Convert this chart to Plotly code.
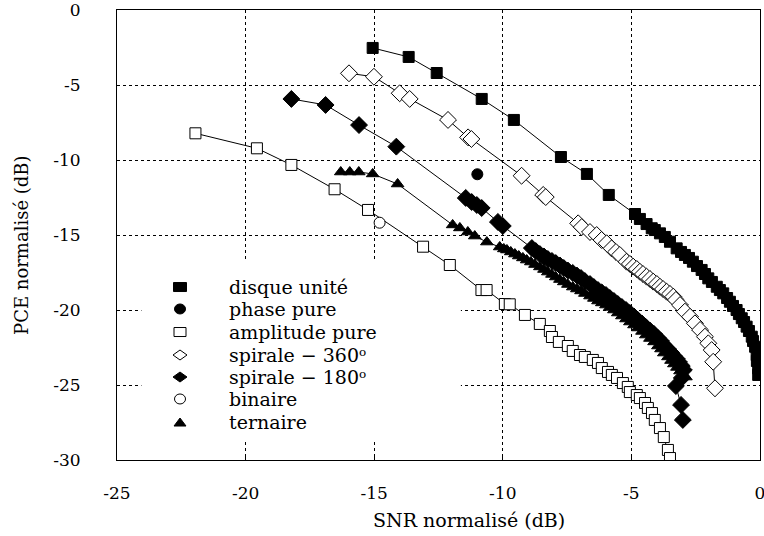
import plotly.graph_objects as go

# ---- data (SNR normalisé, PCE normalisé), dB ----
disque_x = [-15.06, -13.66, -12.57, -10.82, -9.57, -7.74, -6.73, -5.88, -4.86,
            -4.67, -4.41, -4.21, -4.09, -3.89, -3.70, -3.50, -3.24, -3.07, -2.92,
            -2.76, -2.61, -2.45, -2.27, -2.14, -2.01, -1.87, -1.68, -1.56, -1.43,
            -1.28, -1.17, -1.05, -0.91, -0.82, -0.71, -0.62, -0.52, -0.43, -0.32,
            -0.27, -0.19, -0.13, -0.12, -0.07, -0.07]
disque_y = [-2.53, -3.13, -4.20, -5.93, -7.33, -9.80, -10.93, -12.33, -13.60,
            -13.93, -14.27, -14.55, -14.67, -14.89, -15.13, -15.45, -15.89, -16.13, -16.33,
            -16.53, -16.78, -17.07, -17.33, -17.60, -17.89, -18.13, -18.45, -18.67, -18.89,
            -19.20, -19.45, -19.73, -20.00, -20.27, -20.55, -20.80, -21.11, -21.40, -21.78,
            -22.07, -22.45, -23.00, -23.40, -23.89, -24.33]

phase_x = [-10.99]
phase_y = [-10.95]

binaire_x = [-14.79]
binaire_y = [-14.18]

ampl_x = [-21.95, -19.56, -18.22, -16.54, -15.24, -13.10, -12.06, -10.83, -10.63,
          -9.92, -9.73, -9.14, -8.56, -8.17, -8.09, -7.82, -7.47, -7.28, -7.00,
          -6.81, -6.50, -6.30, -6.15, -5.91, -5.76, -5.56, -5.33, -5.14, -5.06,
          -4.79, -4.67, -4.47, -4.36, -4.20, -4.09, -3.89, -3.74, -3.58, -3.50]
ampl_y = [-8.22, -9.22, -10.33, -11.95, -13.33, -15.78, -17.00, -18.67, -18.67,
          -19.60, -19.62, -20.33, -20.93, -21.40, -21.80, -22.13, -22.40, -22.73, -23.00,
          -23.13, -23.33, -23.53, -23.87, -24.13, -24.33, -24.53, -24.87, -25.13, -25.47,
          -25.67, -25.87, -26.20, -26.53, -26.87, -27.33, -27.87, -28.47, -29.33, -29.87]

sp360_x = [-15.98, -15.01, -14.01, -13.62, -12.13, -11.35, -11.22, -9.27, -8.43, -8.33,
           -7.07, -6.93, -6.61, -6.35, -6.16, -5.96, -5.77, -5.60, -5.45, -5.19,
           -5.06, -4.93, -4.79, -4.67, -4.55, -4.41, -4.28, -4.15, -4.01, -3.89,
           -3.77, -3.63, -3.50, -3.37, -3.27, -3.11, -2.92, -2.72, -2.53, -2.33,
           -2.14, -2.01, -1.88, -1.82, -1.75]
sp360_y = [-4.22, -4.45, -5.55, -5.93, -7.33, -8.49, -8.60, -11.05, -12.33, -12.47,
           -14.22, -14.47, -14.80, -15.00, -15.33, -15.55, -15.89, -16.13, -16.33, -16.78,
           -16.93, -17.11, -17.27, -17.45, -17.60, -17.78, -17.93, -18.11, -18.27, -18.45,
           -18.60, -18.78, -18.93, -19.11, -19.33, -19.67, -20.11, -20.45, -20.89, -21.33,
           -21.78, -22.22, -22.67, -23.45, -25.22]

sp180_x = [-18.22, -16.89, -15.59, -14.14, -11.44, -11.21, -11.01, -10.82, -10.19, -10.00,
           -8.87, -8.72, -8.56, -8.40, -8.25, -8.09, -7.94, -7.78, -7.63, -7.47,
           -7.28, -7.12, -6.96, -6.81, -6.61, -6.46, -6.30, -6.15, -5.99, -5.84,
           -5.68, -5.53, -5.37, -5.21, -5.06, -4.90, -4.75, -4.59, -4.44, -4.28,
           -4.12, -3.97, -3.85, -3.74, -3.58, -3.46, -3.35, -3.23, -3.15, -3.04,
           -2.96, -3.04, -3.27, -3.07, -3.00]
sp180_y = [-5.93, -6.33, -7.67, -9.11, -12.53, -12.80, -13.00, -13.20, -14.13, -14.40,
           -15.87, -16.07, -16.27, -16.43, -16.60, -16.73, -16.87, -17.03, -17.20, -17.37,
           -17.53, -17.70, -17.87, -18.07, -18.27, -18.47, -18.67, -18.83, -19.00, -19.20,
           -19.40, -19.60, -19.80, -20.00, -20.20, -20.43, -20.67, -20.90, -21.13, -21.37,
           -21.60, -21.87, -22.07, -22.33, -22.60, -22.83, -23.07, -23.27, -23.47, -23.73,
           -24.00, -24.53, -25.07, -26.33, -27.33]

tern_x = [-16.30, -15.95, -15.60, -15.06, -14.09, -11.95, -11.67, -11.36, -11.09, -10.62,
          -10.12, -9.96, -9.84, -9.69, -9.53, -9.38, -9.22, -9.07, -8.91, -8.75,
          -8.56, -8.40, -8.25, -8.09, -7.94, -7.78, -7.63, -7.47, -7.28, -7.12,
          -6.96, -6.81, -6.61, -6.46, -6.30, -6.15, -5.99, -5.84, -5.68, -5.53,
          -5.37, -5.21, -5.06, -4.90, -4.75, -4.59, -4.44, -4.28, -4.12, -3.97,
          -3.85, -3.74, -3.58, -3.46, -3.35, -3.23, -3.11, -3.00, -2.88]
tern_y = [-10.80, -10.80, -10.80, -10.93, -11.60, -14.33, -14.53, -14.80, -15.07, -15.47,
          -15.80, -15.93, -16.00, -16.13, -16.27, -16.40, -16.53, -16.67, -16.80, -16.97,
          -17.13, -17.30, -17.47, -17.63, -17.80, -17.97, -18.13, -18.30, -18.47, -18.60,
          -18.73, -18.90, -19.07, -19.23, -19.40, -19.53, -19.67, -19.83, -20.00, -20.20,
          -20.40, -20.60, -20.80, -21.00, -21.20, -21.43, -21.67, -21.90, -22.13, -22.40,
          -22.60, -22.87, -23.13, -23.37, -23.60, -23.83, -24.07, -24.27, -24.47]

x_ticks = [-25, -20, -15, -10, -5, 0]
y_ticks = [0, -5, -10, -15, -20, -25, -30]

legend_names = ["disque unité", "phase pure", "amplitude pure",
                "spirale − 360ᵒ", "spirale − 180ᵒ",
                "binaire", "ternaire"]
x_title = "SNR normalisé (dB)"
y_title = "PCE normalisé (dB)"

FONT = "DejaVu Serif"
FS = 17

fig = go.Figure()

# connecting lines
for xs, ys in [(disque_x, disque_y), (ampl_x, ampl_y), (sp360_x, sp360_y),
               (sp180_x, sp180_y), (tern_x, tern_y)]:
    fig.add_trace(go.Scatter(x=xs, y=ys, mode="lines",
                             line=dict(color="black", width=1),
                             showlegend=False, hoverinfo="skip"))

series = [
    (disque_x, disque_y, "square", "black", 11),
    (phase_x, phase_y, "circle", "black", 11),
    (ampl_x, ampl_y, "square", "white", 11),
    (sp360_x, sp360_y, "diamond", "white", 13),
    (sp180_x, sp180_y, "diamond", "black", 13),
    (binaire_x, binaire_y, "circle", "white", 11),
    (tern_x, tern_y, "triangle-up", "black", 11),
]
for (xs, ys, sym, fill, size), name in zip(series, legend_names):
    fig.add_trace(go.Scatter(
        x=xs, y=ys, mode="markers", name=name, showlegend=False,
        marker=dict(symbol=sym, size=size, color=fill,
                    line=dict(color="black", width=1)),
    ))

# ---- legend drawn inside the plot ----
# white legend box: above the grid, below the data
shapes = [dict(type="rect", xref="x", yref="y", layer="between",
               x0=-24.05, x1=-11.63, y0=-28.67, y1=-16.8,
               fillcolor="white", line=dict(width=0))]

key_x = 0.098          # paper fraction of key centre
text_x = 0.1726        # paper fraction of label start
row_y = [0.3844, 0.3356, 0.2844, 0.2333, 0.1844, 0.1356, 0.0844]
key_paths = [
    ("rect", "black", (-6.5, -4.5, 6.5, 4.5)),
    ("circle", "black", (-5.5, -5, 5.5, 5)),
    ("rect", "white", (-6, -4.5, 6, 4.5)),
    ("path", "white", "M -7 0 L 0 5 L 7 0 L 0 -5 Z"),
    ("path", "black", "M -7 0 L 0 5 L 7 0 L 0 -5 Z"),
    ("circle", "white", (-5.5, -5, 5.5, 5)),
    ("path", "black", "M -6 -4 L 6 -4 L 0 4 Z"),
]
for (kind, fill, geo), yy in zip(key_paths, row_y):
    s = dict(type=kind, xref="paper", yref="paper", layer="above",
             xsizemode="pixel", ysizemode="pixel",
             xanchor=key_x, yanchor=yy,
             fillcolor=fill, line=dict(color="black", width=1))
    if kind == "path":
        s["path"] = geo
    else:
        s.update(x0=geo[0], y0=geo[1], x1=geo[2], y1=geo[3])
    shapes.append(s)

annotations = [dict(x=text_x, y=yy, xref="paper", yref="paper",
                    text=name, showarrow=False, xanchor="left", yanchor="middle",
                    borderpad=0,
                    font=dict(family=FONT, size=19, color="black"))
               for name, yy in zip(legend_names, row_y)]
# axis titles
annotations.append(dict(x=0.5474, y=-0.1333, xref="paper", yref="paper",
                        text=x_title, showarrow=False, xanchor="center",
                        yanchor="middle", font=dict(family=FONT, size=19)))
annotations.append(dict(x=-0.1477, y=0.478, xref="paper", yref="paper",
                        text=y_title, showarrow=False, textangle=-90,
                        xanchor="center", yanchor="middle",
                        font=dict(family=FONT, size=18)))

fig.update_layout(
    width=764, height=536,
    margin=dict(l=117, r=4, t=10, b=76),
    paper_bgcolor="white", plot_bgcolor="white",
    font=dict(family=FONT, size=FS, color="black"),
    showlegend=False,
    shapes=shapes, annotations=annotations,
)
fig.update_xaxes(range=[-25, 0], tickvals=x_ticks,
                 ticktext=[str(v) for v in x_ticks],
                 showgrid=True, gridcolor="black", griddash="dot", gridwidth=1,
                 showline=True, linecolor="black", linewidth=1, mirror=True,
                 ticks="inside", ticklen=4, tickcolor="black",
                 zeroline=False, ticklabeloverflow="allow", automargin=False,
                 ticklabelstandoff=18,
                 tickfont=dict(family=FONT, size=FS))
fig.update_yaxes(range=[-30, 0], tickvals=y_ticks,
                 ticktext=[str(v) for v in y_ticks],
                 showgrid=True, gridcolor="black", griddash="dot", gridwidth=1,
                 showline=True, linecolor="black", linewidth=1, mirror=True,
                 ticks="", zeroline=False, ticklabeloverflow="allow", automargin=False,
                 ticklabelstandoff=32,
                 tickfont=dict(family=FONT, size=FS))

# page body has a default 8px margin; remove it so the figure fills the window
fig.write_html("out.html",
               config={"displayModeBar": False},
               post_script="document.body.style.margin='0px';")
